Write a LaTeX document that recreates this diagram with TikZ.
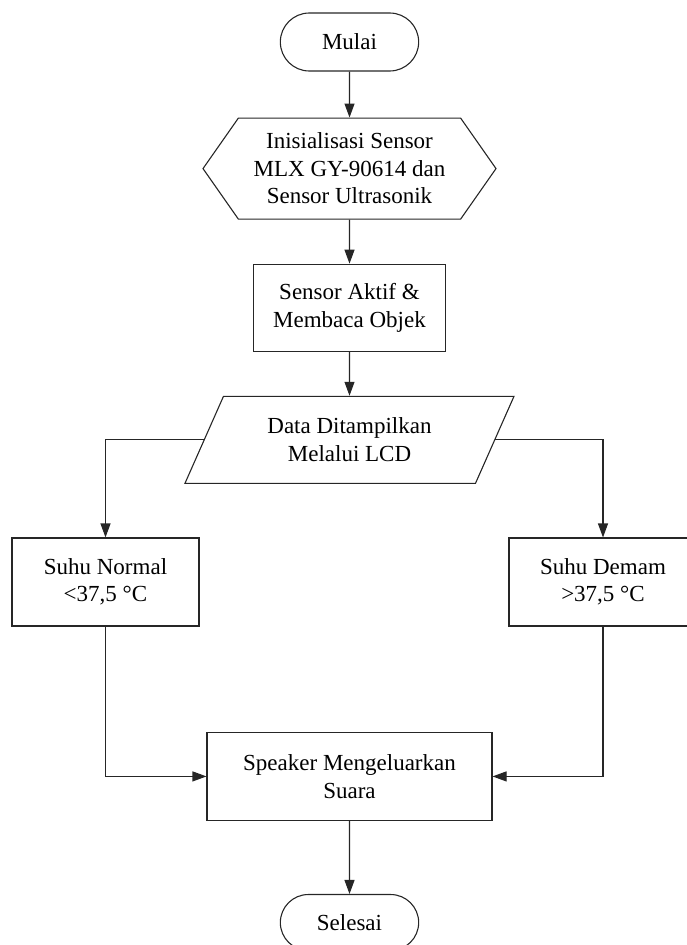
\documentclass[tikz,border=0pt]{standalone}
\usepackage{fontspec}
\setmainfont{Liberation Serif}
\usepackage{tikz}
\usetikzlibrary{arrows.meta,positioning,shapes.geometric,shapes.misc,shapes.symbols}

\begin{document}
\begin{tikzpicture}[x=1pt,y=1pt,node distance=44pt,>={Triangle[length=14pt,width=10pt]},
  every node/.style={font=\fontsize{23}{27.5}\selectfont,align=center,draw=black!85,line width=1.1pt},
  box/.style={rectangle,minimum height=88pt},
  term/.style={rounded rectangle,minimum width=145pt,minimum height=56pt},
  line/.style={draw=black!85,line width=1.1pt}]
\useasboundingbox (0,0) rectangle (686,-945);
\node[term,minimum height=58pt] (mulai) at (349.5,-42) {Mulai};
\node[signal,signal to=west and east,signal pointer angle=110,minimum width=293pt,minimum height=101pt,below=46pt of mulai] (init) {Inisialisasi Sensor\\MLX GY-90614 dan\\Sensor Ultrasonik};
\node[box,minimum width=192pt,minimum height=87pt,below=of init] (aktif) {Sensor Aktif \&\\Membaca Objek};
\node[trapezium,trapezium left angle=62.6,trapezium right angle=117.4,trapezium stretches=true,minimum width=330pt,minimum height=87pt,below=of aktif] (lcd) {Data Ditampilkan\\Melalui LCD};
\node[box,minimum width=187pt] (normal) at (105.5,-582) {Suhu Normal\\<37,5 °C};
\node[box,minimum width=188pt] (demam) at (603,-582) {Suhu Demam\\>37,5 °C};
\node[box,minimum width=285pt,below=248pt of lcd] (speaker) {Speaker Mengeluarkan\\Suara};
\node[term,below=73pt of speaker] (selesai) {Selesai};
\draw[line,->] (mulai) -- (init);
\draw[line,->] (init) -- (aktif);
\draw[line,->] (aktif) -- (lcd);
\draw[line,->] (lcd.west) -| (normal.north);
\draw[line,->] (lcd.east) -| (demam.north);
\draw[line,->] (normal.south) |- (speaker.west);
\draw[line,->] (demam.south) |- (speaker.east);
\draw[line,->] (speaker) -- (selesai);
\end{tikzpicture}
\end{document}
